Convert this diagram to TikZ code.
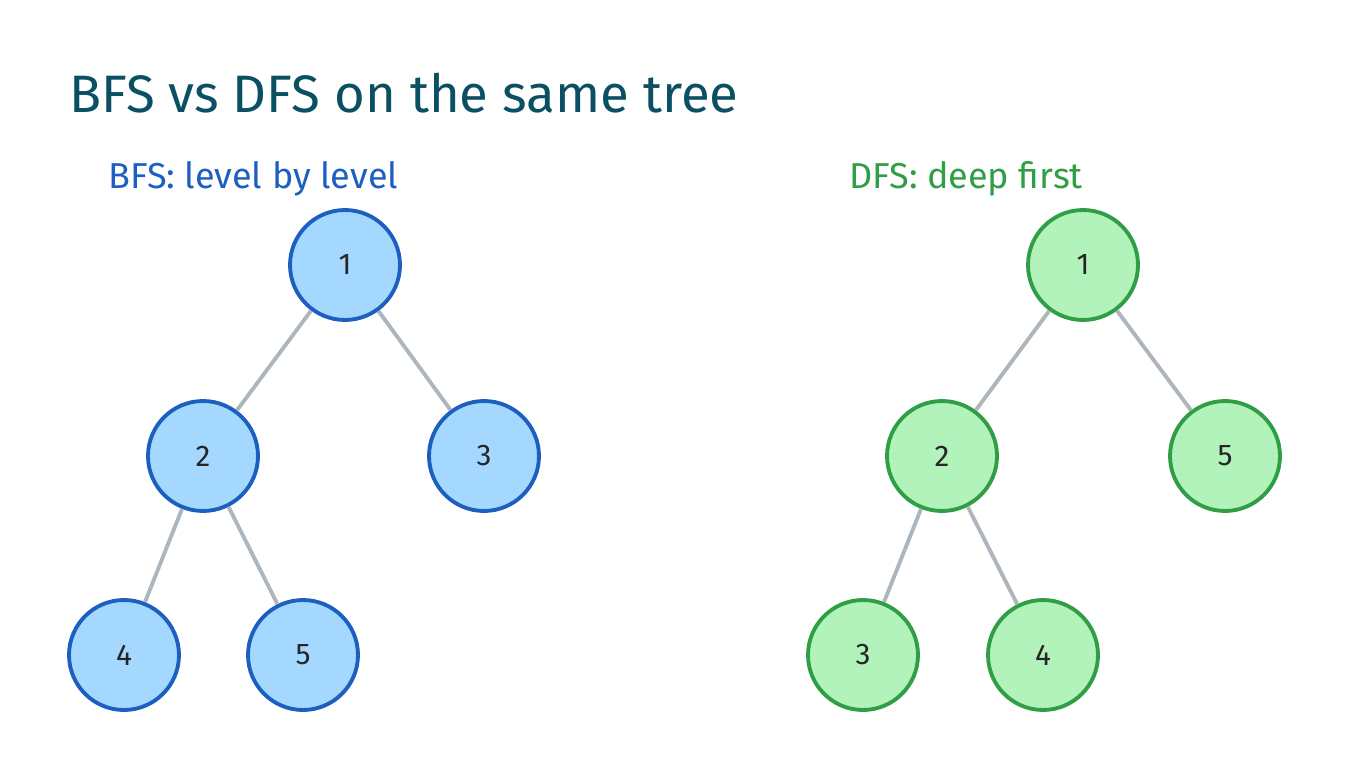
\documentclass[tikz,border=0pt]{standalone}
\usepackage{fontspec}
\setmainfont{Fira Sans}
\usetikzlibrary{positioning}
\definecolor{titleteal}{HTML}{0B4F63}
\definecolor{bfsline}{HTML}{1C5FC0}
\definecolor{bfsfill}{HTML}{A5D8FF}
\definecolor{dfsline}{HTML}{2F9E44}
\definecolor{dfsfill}{HTML}{B2F2BB}
\definecolor{edgegray}{HTML}{ADB5BD}

\begin{document}
\begin{tikzpicture}[x=0.02cm, y=-0.02cm,
  bfsnode/.style={circle, draw=bfsline, fill=bfsfill, line width=2.2pt, minimum size=2.2cm, inner sep=0pt, font=\fontsize{17}{19}\selectfont, text=black!85},
  dfsnode/.style={circle, draw=dfsline, fill=dfsfill, line width=2.2pt, minimum size=2.2cm, inner sep=0pt, font=\fontsize{17}{19}\selectfont, text=black!85},
  treeedge/.style={draw=edgegray, line width=2.2pt}
]
\useasboundingbox (0,0) rectangle (1348,780);
\node[anchor=west, text=titleteal, font=\fontsize{30}{34}\selectfont] (title) at (63,93) {BFS vs DFS on the same tree};
\node[anchor=west, text=bfsline, font=\fontsize{20.5}{24}\selectfont] (bfslabel) at (102,179) {BFS: level by level};
\node[anchor=west, text=dfsline, font=\fontsize{20.5}{24}\selectfont] (dfslabel) at (843,179) {DFS: deep first};
% BFS tree
\node[bfsnode] (b1) at (345,265) {1};
\node[bfsnode] (b2) at (203,456) {2};
\node[bfsnode] (b3) at (484,456) {3};
\node[bfsnode] (b4) at (124,655) {4};
\node[bfsnode] (b5) at (303,655) {5};
% DFS tree
\node[dfsnode] (d1) at (1083,265) {1};
\node[dfsnode] (d2) at (942,456) {2};
\node[dfsnode] (d5) at (1225,456) {5};
\node[dfsnode] (d3) at (863,655) {3};
\node[dfsnode] (d4) at (1043,655) {4};
% edges
\draw[treeedge] (b1) -- (b2);
\draw[treeedge] (b1) -- (b3);
\draw[treeedge] (b2) -- (b4);
\draw[treeedge] (b2) -- (b5);
\draw[treeedge] (d1) -- (d2);
\draw[treeedge] (d1) -- (d5);
\draw[treeedge] (d2) -- (d3);
\draw[treeedge] (d2) -- (d4);
\end{tikzpicture}
\end{document}
